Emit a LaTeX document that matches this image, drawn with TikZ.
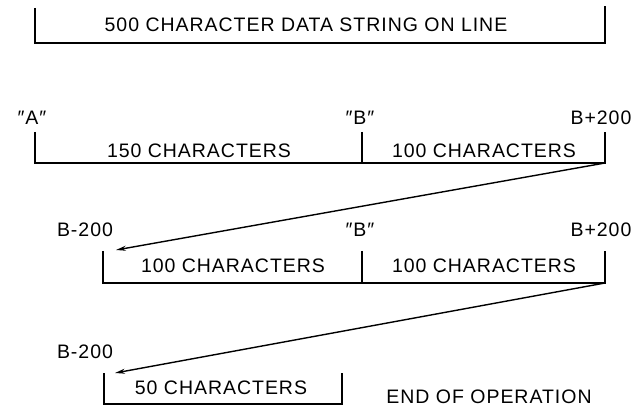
\documentclass[tikz,border=0pt]{standalone}
\usepackage{fontspec}
\setmainfont{Liberation Sans}[LetterSpace=5]
\usetikzlibrary{arrows.meta}
\begin{document}
\begin{tikzpicture}[x=1pt,y=-1pt,
  txt/.style={font=\fontsize{19.5}{22}\selectfont, inner sep=0pt, anchor=center},
  brk/.style={line width=1.3pt, line join=miter},
  arr/.style={line width=1.4pt, -{Stealth[length=10pt,width=5pt]}}]
\useasboundingbox (0,0) rectangle (644,411);
% top bracket
\coordinate (t0) at (35,8);
\coordinate (t1) at (35,43);
\coordinate (t2) at (605,43);
\coordinate (t3) at (605,6);
\draw[brk] (t0) -- (t1) -- (t2) -- (t3);
\node[txt] (ttext) at (306,25) {500 CHARACTER DATA STRING ON LINE};
% row 2
\node[txt] (la) at (32,118) {″A″};
\node[txt] (lb1) at (360,118) {″B″};
\node[txt] (lbp1) at (601,118) {B+200};
\coordinate (a0) at (35,132);
\coordinate (a1) at (35,163);
\coordinate (am0) at (362,132);
\coordinate (am1) at (362,163);
\coordinate (a3) at (605,132);
\coordinate (a2) at (605,163);
\draw[brk] (a0) -- (a1) -- (a2) -- (a3);
\draw[brk] (am0) -- (am1);
\node[txt] (s150) at (199,151) {150 CHARACTERS};
\node[txt] (s100a) at (484,151) {100 CHARACTERS};
% row 3
\node[txt] (lm1) at (85,230) {B-200};
\node[txt] (lb2) at (360,230) {″B″};
\node[txt] (lbp2) at (601,230) {B+200};
\coordinate (b0) at (103,251);
\coordinate (b1) at (103,283);
\coordinate (bm0) at (362,251);
\coordinate (bm1) at (362,283);
\coordinate (b3) at (605,251);
\coordinate (b2) at (605,283);
\draw[brk] (b0) -- (b1) -- (b2) -- (b3);
\draw[brk] (bm0) -- (bm1);
\node[txt] (s100b) at (233,266) {100 CHARACTERS};
\node[txt] (s100c) at (484,266) {100 CHARACTERS};
\coordinate (tip1) at (116,250);
\draw[arr] (a2) -- (tip1);
% row 4
\node[txt] (lm2) at (85,352) {B-200};
\coordinate (c0) at (104,373);
\coordinate (c1) at (104,404);
\coordinate (c2) at (342,404);
\coordinate (c3) at (342,373);
\draw[brk] (c0) -- (c1) -- (c2) -- (c3);
\node[txt] (s50) at (221,388) {50 CHARACTERS};
\coordinate (tip2) at (115,373);
\draw[arr] (b2) -- (tip2);
\node[txt] (eoo) at (489,397) {END OF OPERATION};
\end{tikzpicture}
\end{document}
